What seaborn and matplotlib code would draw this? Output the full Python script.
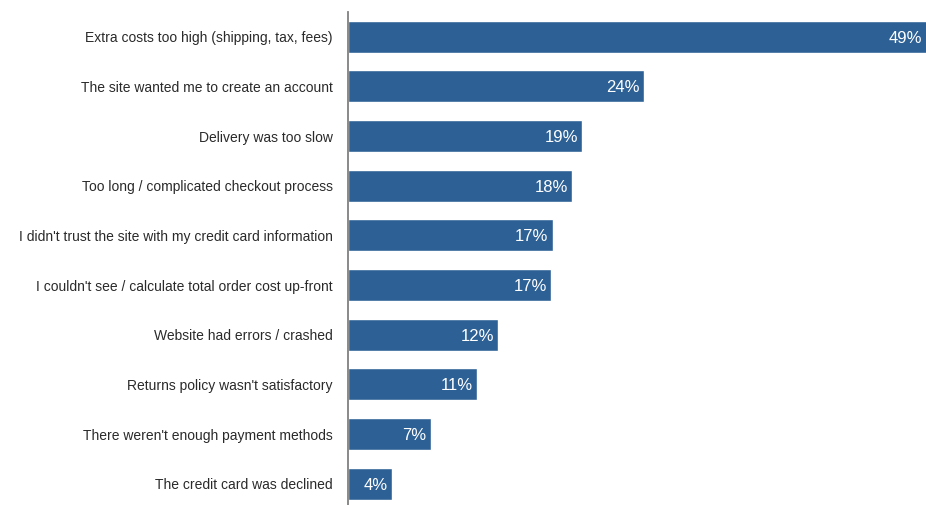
import matplotlib
matplotlib.use("Agg")
import matplotlib.pyplot as plt
import seaborn as sns
import pandas as pd

reasons = [
    "Extra costs too high (shipping, tax, fees)",
    "The site wanted me to create an account",
    "Delivery was too slow",
    "Too long / complicated checkout process",
    "I didn't trust the site with my credit card information",
    "I couldn't see / calculate total order cost up-front",
    "Website had errors / crashed",
    "Returns policy wasn't satisfactory",
    "There weren't enough payment methods",
    "The credit card was declined",
]
values = [49, 24, 19, 18.2, 16.6, 16.5, 12.2, 10.5, 6.7, 3.6]
value_labels = ["49%", "24%", "19%", "18%", "17%", "17%", "12%", "11%", "7%", "4%"]

df = pd.DataFrame({"reason": reasons, "value": values})

sns.set_theme(style="white")
plt.rcParams["font.family"] = ["Liberation Sans", "DejaVu Sans"]

W, H = 926, 505
fig = plt.figure(figsize=(W / 100, H / 100), dpi=100)
left = 348 / W
xmax = 50
px_per = 12.33
right_px = 348 + xmax * px_per
top = 1 - 12 / H
bottom = 1 - 508.5 / H
ax = fig.add_axes([left, bottom, (right_px - 348) / W, top - bottom])

bar_color = "#2d6095"
sns.barplot(data=df, y="reason", x="value", orient="h", color=bar_color,
            width=0.645, ax=ax, saturation=1)

ax.set_xlim(0, xmax)
ax.set_ylim(9.5, -0.5)
ax.set_xlabel("")
ax.set_ylabel("")
ax.set_xticks([])
ax.tick_params(axis="y", length=0, pad=11, labelsize=10, labelcolor="#2a2a2a")
for s in ["top", "right", "bottom"]:
    ax.spines[s].set_visible(False)
ax.spines["left"].set_color("#808080")
ax.spines["left"].set_linewidth(1.3)

# right edge of the figure in data units (keep the clipped top label visible)
fig_right_x = (W - 348) / px_per
for i, (v, lab) in enumerate(zip(values, value_labels)):
    xpos = min(v, fig_right_x)
    ax.annotate(lab, xy=(xpos, i), xytext=(-3, -1), textcoords="offset points",
                ha="right", va="center", color="white", fontsize=12)

fig.savefig("out.png", dpi=100)
